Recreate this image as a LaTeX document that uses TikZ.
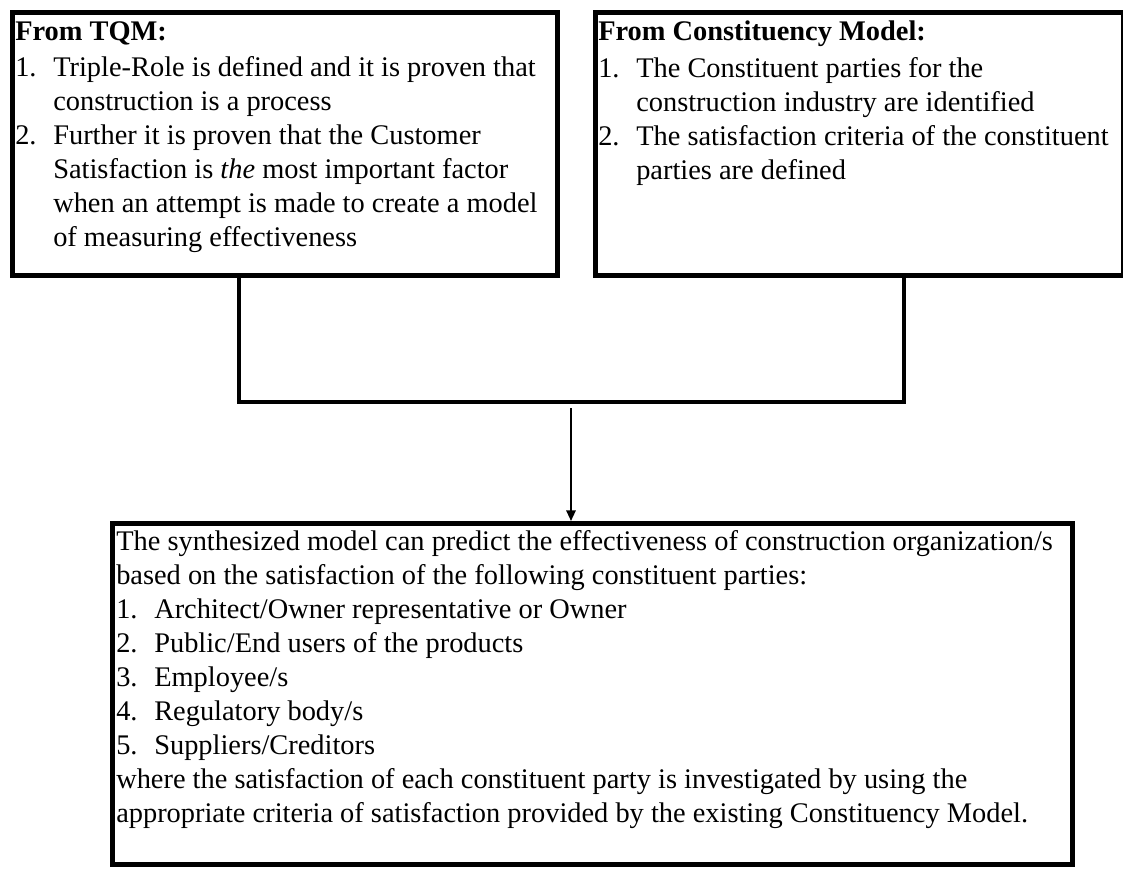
\documentclass[tikz,border=0pt]{standalone}
\usepackage{fontspec}
\setmainfont{Liberation Serif}
\usetikzlibrary{arrows.meta}
% numbered line with a hanging number, and a continuation line
\newcommand{\numitem}[2]{\makebox[28.5pt][l]{#1}#2}
\newcommand{\contline}[1]{\hspace*{28.5pt}#1}
\begin{document}
\begin{tikzpicture}[x=0.75pt,y=-0.75pt,
  frame/.style={draw, line width=3.75pt, rectangle, anchor=north west, inner sep=0pt},
  body/.style={anchor=north west, inner sep=0pt, align=left,
    font=\fontsize{21.3pt}{25.5pt}\selectfont},
  link/.style={line width=3pt},
  feed/.style={line width=1.5pt, -{Triangle[length=8pt,width=7pt]}}]
\useasboundingbox (0,0) rectangle (1123,869);

% the three boxes
\node[frame, minimum width=545*0.75pt, minimum height=263*0.75pt] (tqm) at (10,10) {};
\node[frame, minimum width=528*0.75pt, minimum height=263*0.75pt] (cm) at (593,10) {};
\node[frame, minimum width=960*0.75pt, minimum height=341*0.75pt] (syn) at (110,521) {};

% their texts
\node[body] (tqmtext) at (15,21) {%
  \textbf{From TQM:}\\[2pt]
  \numitem{1.}{Triple-Role is defined and it is proven that}\\
  \contline{construction is a process}\\
  \numitem{2.}{Further it is proven that the Customer}\\
  \contline{Satisfaction is \textit{the} most important factor}\\
  \contline{when an attempt is made to create a model}\\
  \contline{of measuring effectiveness}};

\node[body] (cmtext) at (598,21) {%
  \textbf{From Constituency Model:}\\[2pt]
  \numitem{1.}{The Constituent parties for the}\\
  \contline{construction industry are identified}\\
  \numitem{2.}{The satisfaction criteria of the constituent}\\
  \contline{parties are defined}};

\node[body] (syntext) at (116,530) {%
  The synthesized model can predict the effectiveness of construction organization/s\\
  based on the satisfaction of the following constituent parties:\\
  \numitem{1.}{Architect/Owner representative or Owner}\\
  \numitem{2.}{Public/End users of the products}\\
  \numitem{3.}{Employee/s}\\
  \numitem{4.}{Regulatory body/s}\\
  \numitem{5.}{Suppliers/Creditors}\\
  where the satisfaction of each constituent party is investigated by using the\\
  appropriate criteria of satisfaction provided by the existing Constituency Model.};

% joining lines and the arrow into the synthesis box
\coordinate (jl) at (239,402);
\coordinate (jr) at (904,402);
\coordinate (ja) at (571,408);
\draw[link] (tqm.south -| jl) -- (jl) -- (jr) -- (cm.south -| jr);
\draw[feed] (ja) -- (syn.north -| ja);
\end{tikzpicture}
\end{document}
